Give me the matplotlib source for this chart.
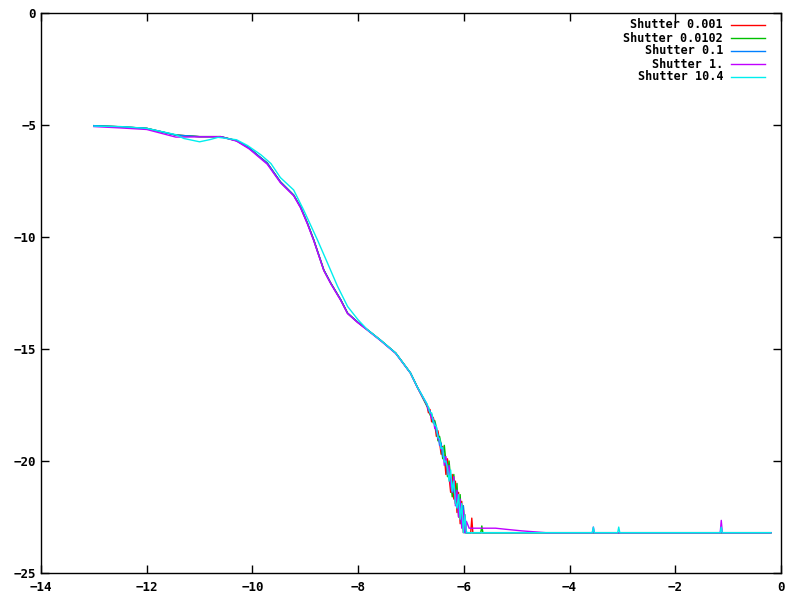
import matplotlib
matplotlib.use('Agg')
import matplotlib.pyplot as plt
from matplotlib.lines import Line2D
import numpy as np

plt.rcParams['font.family'] = 'DejaVu Sans Mono'

# smooth upper part, shared by 0.001 / 0.0102 / 0.1
x_head = [-13.0, -12.5, -12.0, -11.45, -11.0, -10.6, -10.3, -10.06, -9.87, -9.72, -9.47,
          -9.22, -9.09, -8.96, -8.84, -8.65, -8.52, -8.33, -8.2, -8.01, -7.82, -7.58,
          -7.29, -7.01, -6.88]
y_head = [-5.03, -5.08, -5.15, -5.45, -5.52, -5.52, -5.7, -6.03, -6.41, -6.7, -7.54,
          -8.13, -8.66, -9.38, -10.13, -11.47, -12.05, -12.8, -13.4, -13.8, -14.15, -14.6,
          -15.18, -16.07, -16.7]
# shutter 1. sits slightly lower at the start
y_head_m = [-5.07, -5.13, -5.2, -5.54, -5.53, -5.52, -5.72, -6.07, -6.45, -6.75, -7.58,
            -8.16, -8.7, -9.42, -10.17, -11.5, -12.08, -12.83, -13.42, -13.82, -14.17, -14.62,
            -15.2, -16.08, -16.72]
# shutter 10.4 upper part differs a bit
x_head_c = [-13.0, -12.5, -12.0, -11.45, -11.3, -11.0, -10.8, -10.65, -10.3, -10.09, -9.84,
            -9.65, -9.47, -9.22, -9.03, -8.77, -8.58, -8.39, -8.2, -8.0, -7.82, -7.58,
            -7.29, -7.01, -6.88]
y_head_c = [-5.05, -5.07, -5.15, -5.43, -5.6, -5.75, -5.65, -5.55, -5.66, -5.92, -6.33,
            -6.72, -7.35, -7.9, -8.8, -10.13, -11.16, -12.2, -13.1, -13.7, -14.15, -14.6,
            -15.18, -16.07, -16.7]

# noisy tails (common x grid, then a few extra points)
x_tail = [-6.7, -6.67, -6.64, -6.61, -6.58, -6.55, -6.52, -6.49, -6.46, -6.43, -6.4, -6.37,
          -6.34, -6.31, -6.28, -6.25, -6.22, -6.19, -6.16, -6.13, -6.1, -6.07, -6.04, -6.01,
          -5.98, -5.95]
y_tail_r = [-17.5, -17.85, -17.7, -18.25, -18.05, -18.35, -18.9, -18.65, -19.15, -19.7, -19.35,
            -19.75, -20.6, -19.9, -20.7, -21.4, -20.6, -21.7, -20.9, -22.3, -21.4, -22.8,
            -21.8, -23.2, -22.4, -23.2]
y_tail_g = [-17.55, -17.6, -17.95, -17.9, -18.3, -18.2, -18.5, -19.1, -18.9, -19.25, -19.9,
            -19.3, -20.0, -20.7, -20.0, -20.8, -21.6, -20.6, -21.9, -21.0, -22.5, -21.5,
            -22.9, -22.0, -23.2, -23.2]
y_tail_b = [-17.45, -17.75, -17.75, -18.05, -18.25, -18.3, -18.7, -18.8, -19.3, -19.2, -19.8,
            -19.8, -20.1, -20.3, -20.6, -20.8, -21.1, -21.35, -21.6, -21.7, -22.2, -22.2,
            -22.9, -22.0, -23.2, -23.2]
y_tail_m = [-17.5, -17.7, -17.85, -18.1, -18.1, -18.55, -18.5, -19.0, -19.1, -19.5, -19.45,
            -20.2, -19.8, -20.6, -20.2, -21.1, -21.4, -20.7, -22.0, -21.3, -22.5, -21.7,
            -23.0, -22.2, -23.2, -22.7]
y_tail_c = [-17.45, -17.6, -17.85, -17.85, -18.2, -18.4, -18.45, -18.95, -19.0, -19.45, -19.4,
            -20.05, -20.0, -20.3, -20.9, -20.4, -21.35, -20.9, -21.8, -22.1, -21.5, -22.6,
            -21.9, -23.2, -22.4, -23.2]

x_extra_r = [-5.87, -5.85, -5.83]
y_extra_r = [-23.2, -22.55, -23.2]
x_extra_g = [-5.68, -5.66, -5.64]
y_extra_g = [-23.2, -22.9, -23.2]
x_extra_m = [-5.9, -5.4, -5.2, -4.9, -4.45]
y_extra_m = [-23.0, -23.0, -23.05, -23.12, -23.2]

# flat floor with a few spikes
x_base = [-4.4, -3.57, -3.55, -3.53, -3.09, -3.07, -3.05, -1.15, -1.13, -1.11, -0.19]
y_base = [-23.2, -23.2, -23.2, -23.2, -23.2, -23.2, -23.2, -23.2, -23.2, -23.2, -23.2]
y_base_m = [-23.2, -23.2, -22.95, -23.2, -23.2, -23.2, -23.2, -23.2, -22.65, -23.2, -23.2]
y_base_c = [-23.2, -23.2, -22.95, -23.2, -23.2, -22.95, -23.2, -23.2, -22.95, -23.2, -23.2]

labels = ['Shutter 0.001', 'Shutter 0.0102', 'Shutter 0.1', 'Shutter 1.', 'Shutter 10.4']
colors = ['#ff0000', '#00c000', '#0080ff', '#c000ff', '#00eeee']

series = [
    (x_head + x_tail + x_extra_r + x_base, y_head + y_tail_r + y_extra_r + y_base),
    (x_head + x_tail + x_extra_g + x_base, y_head + y_tail_g + y_extra_g + y_base),
    (x_head + x_tail + x_base, y_head + y_tail_b + y_base),
    (x_head + x_tail + x_extra_m + x_base, y_head_m + y_tail_m + y_extra_m + y_base_m),
    (x_head_c + x_tail + x_base, y_head_c + y_tail_c + y_base_c),
]

fig = plt.figure(figsize=(8, 6), dpi=100)
ax = fig.add_axes([41/800, 1-573/600, 740/800, 560/600])

for (xs, ys), col in zip(series, colors):
    ax.plot(xs, ys, color=col, lw=1)

ax.set_xlim(-14, 0)
ax.set_ylim(-25, 0)
ax.set_xticks(np.arange(-14, 1, 2))
ax.set_yticks(np.arange(-25, 1, 5))
ax.tick_params(direction='in', top=True, right=True, length=6, labelsize=9, width=1)
ax.tick_params(axis='x', pad=6)
for t in ax.get_xticklabels() + ax.get_yticklabels():
    t.set_fontweight('bold')
for s in ax.spines.values():
    s.set_linewidth(1)

# gnuplot style key, text right aligned with sample line on the right
for i, (lab, col) in enumerate(zip(labels, colors)):
    yy = 1 - (25 + 13*i)/600
    fig.text(723/800, yy, lab, ha='right', va='center', fontsize=8.5, fontweight='bold')
    fig.add_artist(Line2D([731/800, 765/800], [yy, yy], color=col, lw=1,
                          transform=fig.transFigure))

plt.savefig('out.png', dpi=100)
